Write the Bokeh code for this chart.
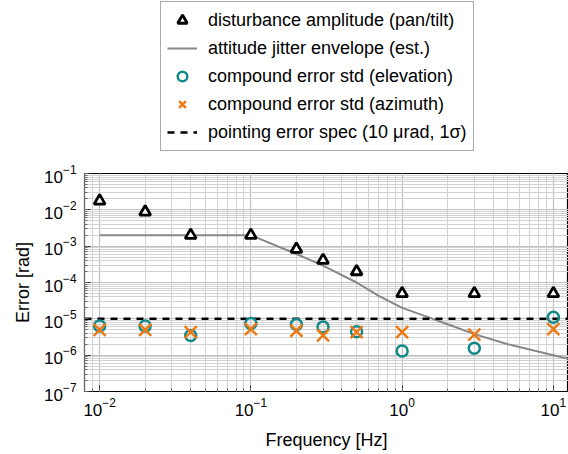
from bokeh.plotting import figure
from bokeh.layouts import column
from bokeh.models import Legend, LegendItem
from bokeh.embed import file_html
from bokeh.resources import INLINE

# ---- data ----
freq = [0.01, 0.02, 0.04, 0.1, 0.2, 0.3, 0.5, 1, 3, 10]
disturbance = [1.76e-2, 8.8e-3, 2.0e-3, 2.0e-3, 8.3e-4, 4.1e-4, 2.0e-4, 5.0e-5, 5.0e-5, 5.0e-5]
env_freq = [0.01, 0.1, 0.2, 0.3, 0.5, 0.7, 1, 1.5, 2, 3, 5, 10, 13]
env_vals = [2e-3, 2e-3, 6.1e-4, 2.9e-4, 1.0e-4, 4.3e-5, 2.0e-5, 1.1e-5, 7.1e-6, 3.8e-6, 2.0e-6, 1.0e-6, 7.7e-7]
elevation = [6.4e-6, 6.3e-6, 3.5e-6, 7.4e-6, 7.0e-6, 6.0e-6, 4.4e-6, 1.3e-6, 1.55e-6, 1.1e-5]
azimuth = [5.0e-6, 5.0e-6, 4.3e-6, 5.2e-6, 4.7e-6, 3.5e-6, 4.3e-6, 4.3e-6, 3.7e-6, 5.2e-6]
spec_level = 1e-5
x_limits = (10 ** -2.1, 10 ** 1.1)
y_limits = (1e-7, 1e-1)
labels = ["disturbance amplitude (pan/tilt)",
          "attitude jitter envelope (est.)",
          "compound error std (elevation)",
          "compound error std (azimuth)",
          "pointing error spec (10 \u03bcrad, 1\u03c3)"]

FONT = "Liberation Sans"
TEAL = "#138a8a"
ORANGE = "#ee7a16"
ENV_COLOR = "#888888"

# glyph styles shared by plot and legend
st_env = dict(line_color=ENV_COLOR, line_width=2)
st_spec = dict(line_color="black", line_width=2.5, line_dash="7 6")
st_el = dict(marker="circle", size=11, fill_color=None, line_color=TEAL, line_width=2.5)
st_az = dict(marker="x", size=17, line_color=ORANGE, line_width=2.5)
st_dist = dict(marker="triangle", size=11, fill_color="white", line_color="black", line_width=2.8)

# ---------------- legend strip ----------------
leg_fig = figure(width=568, height=160, output_backend="svg", toolbar_location=None,
                 min_border=0, x_range=(0, 1), y_range=(0, 1))
leg_fig.axis.visible = False
leg_fig.grid.visible = False
leg_fig.outline_line_color = None

# proxy renderers placed outside the visible range (legend keys only)
px, py = [-5, -4], [-5, -4]
l_dist = leg_fig.scatter(px, py, **st_dist)
l_env = leg_fig.line(px, py, **st_env)
l_el = leg_fig.scatter(px, py, **st_el)
l_az = leg_fig.scatter(px, py, **st_az)
l_spec = leg_fig.line(px, py, **st_spec)

legend = Legend(items=[LegendItem(label=lab, renderers=[r]) for lab, r in
                       zip(labels, [l_dist, l_env, l_el, l_az, l_spec])],
                location=(76, 9), orientation="vertical")
legend.margin = 0
legend.padding = 6
legend.spacing = 4
legend.label_height = 24
legend.glyph_height = 24
legend.glyph_width = 30
legend.label_standoff = 11
legend.label_text_font = FONT
legend.label_text_font_size = "18px"
legend.label_text_color = "black"
legend.border_line_color = "#555555"
legend.border_line_width = 1
legend.background_fill_alpha = 1
leg_fig.add_layout(legend, "center")

# ---------------- main plot ----------------
p = figure(width=568, height=292,
           x_axis_type="log", y_axis_type="log",
           x_range=x_limits, y_range=y_limits,
           output_backend="svg", toolbar_location=None,
           min_border_left=84, min_border_right=0,
           min_border_bottom=59, min_border_top=13,
           x_axis_label="Frequency [Hz]", y_axis_label="Error [rad]")

p.outline_line_color = "black"
p.outline_line_width = 1.2
p.background_fill_color = "white"

for ax in (p.xaxis[0], p.yaxis[0]):
    ax.axis_line_color = None
    ax.major_tick_in = 6
    ax.major_tick_out = 0
    ax.minor_tick_in = 3
    ax.minor_tick_out = 0
    ax.major_tick_line_color = "#333333"
    ax.minor_tick_line_color = "#666666"
    ax.major_label_text_font = FONT
    ax.major_label_text_font_size = "17px"
    ax.major_label_text_color = "black"
    ax.axis_label_text_font = FONT
    ax.axis_label_text_font_size = "18px"
    ax.axis_label_text_font_style = "normal"
    ax.axis_label_text_color = "black"

p.xaxis.major_label_standoff = 6
p.xaxis.axis_label_standoff = 11
p.yaxis.major_label_standoff = 8
p.yaxis.axis_label_standoff = 8

for g in (p.xgrid[0], p.ygrid[0]):
    g.grid_line_color = "#c0c0c0"
    g.grid_line_width = 1.2
    g.minor_grid_line_color = "#d2d2d2"
    g.minor_grid_line_width = 1

p.line(env_freq, env_vals, **st_env)
p.line(x=[x_limits[0], x_limits[1]], y=[spec_level, spec_level], **st_spec)
p.scatter(freq, elevation, **st_el)
p.scatter(freq, azimuth, **st_az)
p.scatter(freq, disturbance, **st_dist)

layout = column(leg_fig, p, spacing=0)
open("out.html", "w").write(file_html(layout, INLINE))
